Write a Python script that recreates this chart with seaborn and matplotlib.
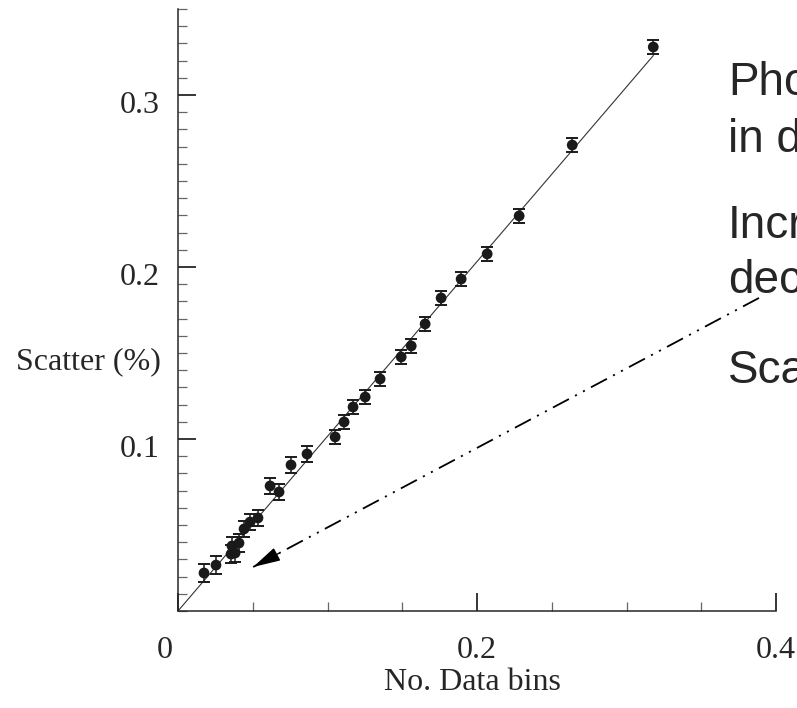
import matplotlib
matplotlib.use("Agg")
import matplotlib.pyplot as plt
import matplotlib.transforms as mtransforms
from matplotlib.ticker import MultipleLocator, FixedLocator
import pandas as pd
import seaborn as sns

# values
bins = [0.0174, 0.0254, 0.0355, 0.0382, 0.0361, 0.0408, 0.0442, 0.0482, 0.0535,
        0.0616, 0.0676, 0.0756, 0.0863, 0.1051, 0.1111, 0.1171, 0.1252, 0.1352,
        0.1493, 0.1560, 0.1653, 0.1760, 0.1894, 0.2068, 0.2282, 0.2637, 0.3179]
scatter = [0.0221, 0.0267, 0.0331, 0.0337, 0.0378, 0.0395, 0.0477, 0.0517, 0.0541,
           0.0727, 0.0692, 0.0849, 0.0913, 0.1012, 0.1099, 0.1186, 0.1244, 0.1349,
           0.1477, 0.1541, 0.1669, 0.1820, 0.1930, 0.2076, 0.2297, 0.2709, 0.3279]
err = [0.005, 0.005, 0.005, 0.005, 0.005, 0.005, 0.0045, 0.0045, 0.0045,
       0.0045, 0.0045, 0.0045, 0.0045, 0.0042, 0.0042, 0.0042, 0.0042, 0.0042,
       0.0042, 0.0042, 0.004, 0.004, 0.004, 0.004, 0.004, 0.004, 0.004]
fit_x = [0.0, 0.318]
fit_y = [0.0, 0.323]
arrow_x = [0.3886, 0.0503]
arrow_y = [0.182, 0.0256]

x_ticks = [0.0, 0.2, 0.4]
x_labels = ["0", "0.2", "0.4"]
y_ticks = [0.1, 0.2, 0.3]
y_labels = ["0.1", "0.2", "0.3"]

# right-hand text, only the part that shows inside the picture
side_text = [("Pho", 95), ("in d", 152), ("Incr", 238), ("dec", 293), ("Sca", 383)]

sns.set_style("ticks")
plt.rcParams['font.family'] = ['Liberation Serif', 'DejaVu Serif']
plt.rcParams['lines.scale_dashes'] = False

d = pd.DataFrame({'bins': bins, 'scatter': scatter})

fig = plt.figure(figsize=(7.97, 7.08), dpi=100)
ax = fig.add_axes([178 / 797, 1 - 611 / 708, 598 / 797, 602 / 708])

sns.lineplot(x=fit_x, y=fit_y, ax=ax, color='#333333', lw=0.8)
ax.errorbar(bins, scatter, yerr=err, fmt='none', ecolor='#1a1a1a',
            elinewidth=1.1, capsize=4, capthick=1.4)
sns.scatterplot(x='bins', y='scatter', data=d, ax=ax, color='#1a1a1a',
                s=60, edgecolor='none', zorder=3)

# dash-dot-dot pointer with filled head
ax.plot(arrow_x, arrow_y, color='black', lw=1.3,
        linestyle=(0, (13, 5, 1.5, 5, 1.5, 5)))
hx = arrow_x[1] + 0.05 * (arrow_x[0] - arrow_x[1])
hy = arrow_y[1] + 0.05 * (arrow_y[0] - arrow_y[1])
ax.annotate('', xy=(arrow_x[1], arrow_y[1]), xytext=(hx, hy),
            arrowprops=dict(arrowstyle='-|>,head_length=0.85,head_width=0.22',
                            mutation_scale=20, color='black', lw=1.0,
                            shrinkA=0, shrinkB=0))

ax.set_xlim(0, 0.4)
ax.set_ylim(0, 0.35)
ax.xaxis.set_major_locator(FixedLocator(x_ticks))
ax.xaxis.set_minor_locator(MultipleLocator(0.05))
ax.yaxis.set_major_locator(FixedLocator(y_ticks))
ax.yaxis.set_minor_locator(MultipleLocator(0.01))
ax.set_xticklabels(x_labels)
ax.set_yticklabels(y_labels)

ax.tick_params(axis='both', which='major', direction='in', length=13,
               width=1.1, labelsize=23, color='black')
ax.tick_params(axis='both', which='minor', direction='in', length=6.5,
               width=0.9, color='#666666')
ax.tick_params(axis='x', which='major', pad=18)
ax.tick_params(axis='y', which='major', pad=13)

sns.despine(ax=ax)
for s in ['left', 'bottom']:
    ax.spines[s].set_linewidth(1.1)

for lab in ax.get_yticklabels():
    lab.set_transform(lab.get_transform() +
                      mtransforms.ScaledTranslation(0, -0.07, fig.dpi_scale_trans))
xl = ax.get_xticklabels()
xl[0].set_transform(xl[0].get_transform() +
                    mtransforms.ScaledTranslation(-0.13, 0, fig.dpi_scale_trans))

ax.set_xlabel("No. Data bins", fontsize=23, va='center')
ax.xaxis.set_label_coords(0.493, -0.118)
ax.set_ylabel("Scatter (%)", fontsize=23, rotation=0, ha='center', va='center')
ax.yaxis.set_label_coords(-0.149, 0.414)

for txt, base in side_text:
    fig.text(728 / 797, 1 - base / 708, txt, fontsize=33, va='baseline',
             ha='left', family=['Liberation Sans', 'DejaVu Sans'])

plt.savefig('out.png', dpi=100)
